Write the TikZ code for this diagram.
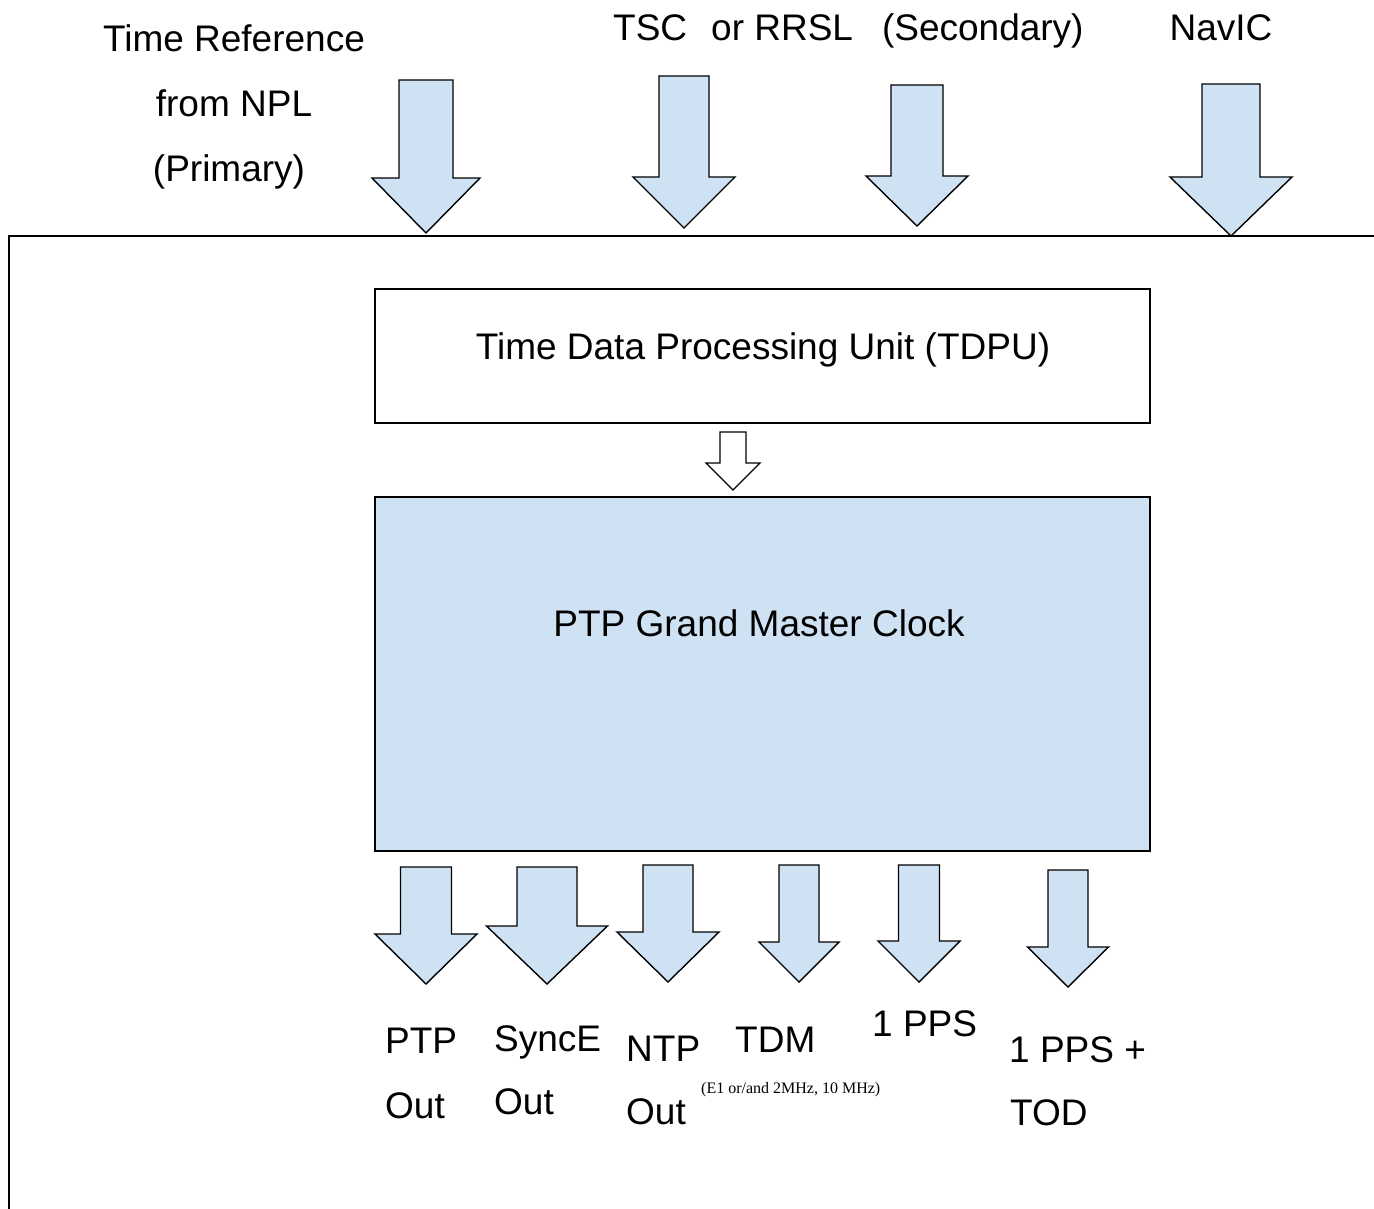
\documentclass[tikz,border=0pt]{standalone}
\usepackage{fontspec}
\setmainfont{Liberation Sans}
\newfontfamily\smallserif{Liberation Serif}
\definecolor{boxblue}{HTML}{CFE2F3}

\tikzset{
  lbl/.style={font=\fontsize{37}{44}\selectfont, inner sep=0pt, anchor=base west},
  bigarrow/.style={draw, line width=1.4pt, fill=boxblue, line join=miter},
  unitbox/.style={draw, line width=1.4pt, inner sep=0pt, minimum width=775pt}
}

\begin{document}
\begin{tikzpicture}[x=1pt, y=-1pt]
    \useasboundingbox (0,0) rectangle (1374,1209);

    % Outer frame (only top and left edges visible)
    \coordinate (frameTR) at (1380,236);
    \coordinate (frameTL) at (9,236);
    \coordinate (frameBL) at (9,1215);
    \draw[line width=2pt] (frameTR) -- (frameTL) -- (frameBL);

    % Input labels
    \node[lbl, anchor=base] (npl1) at (234,52) {Time Reference};
    \node[lbl, anchor=base] (npl2) at (234,117) {from NPL};
    \node[lbl, anchor=base] (npl3) at (229,182) {(Primary)};
    \node[lbl] (tsc) at (613,41) {TSC\hspace{24pt}or RRSL\hspace{29pt}(Secondary)};
    \node[lbl, anchor=base] (navic) at (1221,41) {NavIC};

    % Input arrows: centre x / top / shaft half / head y / head half / tip
    \foreach \cx/\t/\s/\h/\w/\p in {426/80/27/178/54/233, 684/76/25/177/51/228,
                                    917/85/26/176/51/226, 1231/84/29/177/61/236} {
        \draw[bigarrow] (\cx-\s,\t) -- (\cx+\s,\t) -- (\cx+\s,\h) -- (\cx+\w,\h)
            -- (\cx,\p) -- (\cx-\w,\h) -- (\cx-\s,\h) -- cycle;
    }

    % Time Data Processing Unit
    \node[unitbox, minimum height=134pt] (tdpu) at (762.5,356) {};
    \node[lbl, anchor=base] (tdpuText) at (763,359) {Time Data Processing Unit (TDPU)};

    % Hollow arrow TDPU -> clock
    \draw[line width=1.2pt, fill=white] (720,432) -- (746,432) -- (746,463) -- (760,463)
        -- (733,490) -- (706,463) -- (720,463) -- cycle;

    % PTP Grand Master Clock
    \node[unitbox, fill=boxblue, minimum height=354pt] (gmc) at (762.5,674) {};
    \node[lbl, anchor=base] (gmcText) at (759,636) {PTP Grand Master Clock};

    % Output arrows
    \foreach \cx/\t/\s/\h/\w/\p in {426/867/25.5/934/51/984, 547/867/30/926/60.5/984,
                                    668/865/25/932/51/982, 799/865/20/942/40/982,
                                    919/865/20.5/941/41/982, 1068/870/20/947/40.5/987} {
        \draw[bigarrow] (\cx-\s,\t) -- (\cx+\s,\t) -- (\cx+\s,\h) -- (\cx+\w,\h)
            -- (\cx,\p) -- (\cx-\w,\h) -- (\cx-\s,\h) -- cycle;
    }

    % Output labels
    \node[lbl] (ptpA) at (385,1053) {PTP};
    \node[lbl] (ptpB) at (385,1118) {Out};
    \node[lbl] (syncA) at (494,1051) {SyncE};
    \node[lbl] (syncB) at (494,1114) {Out};
    \node[lbl] (ntpA) at (626,1061) {NTP};
    \node[lbl] (ntpB) at (626,1124) {Out};
    \node[lbl] (tdm) at (735,1052) {TDM};
    \node[lbl, font=\smallserif\fontsize{16}{19}\selectfont] (tdmNote) at (701,1093) {(E1 or/and 2MHz, 10 MHz)};
    \node[lbl] (pps) at (872,1036) {1 PPS};
    \node[lbl] (todA) at (1009,1062) {1 PPS +};
    \node[lbl] (todB) at (1010,1125) {TOD};
\end{tikzpicture}
\end{document}
